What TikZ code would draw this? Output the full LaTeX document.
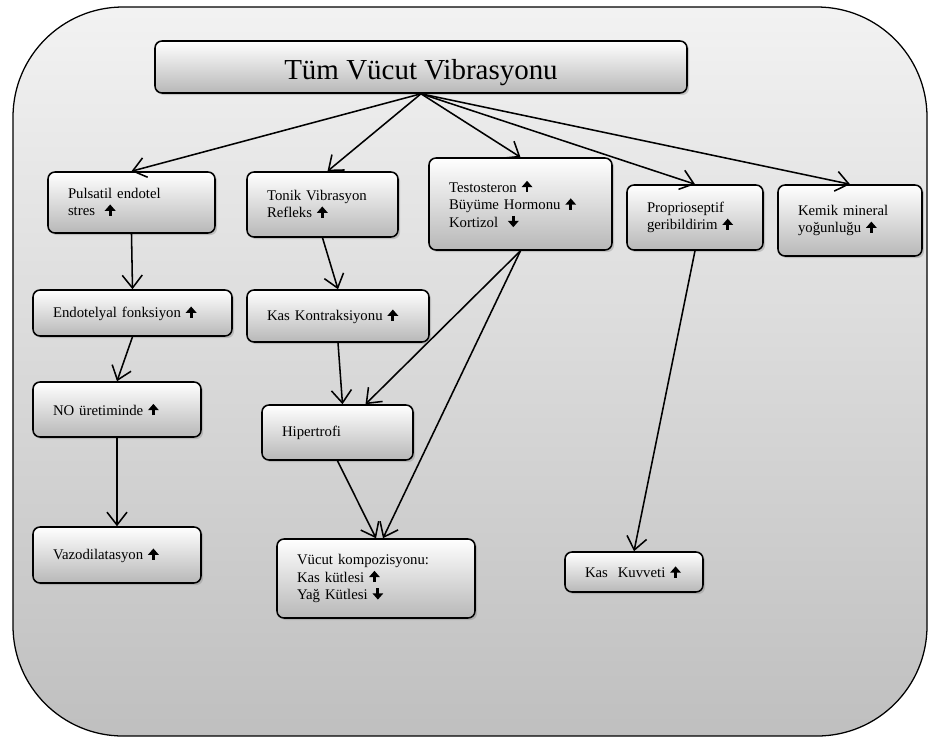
\documentclass[tikz,border=0pt]{standalone}
\usepackage{fontspec}
\setmainfont{Liberation Serif}
\usetikzlibrary{arrows.meta,shadows}

\newdimen\px
\px=0.025cm
% small up / down arrows used in the texts
\newcommand{\up}{\tikz[baseline=0pt]\draw[sharp corners,line width=2pt,-{Triangle[length=4.5pt,width=7.5pt]}] (0pt,0pt) -- (0pt,8pt);}
\newcommand{\down}{\tikz[baseline=0pt]\draw[sharp corners,line width=2pt,-{Triangle[length=4.5pt,width=7.5pt]}] (0pt,8pt) -- (0pt,0pt);}

\begin{document}
\begin{tikzpicture}[x=0.025cm,
					y=-0.025cm,
					>={Straight Barb[length=3.2mm,width=5mm]},
					panel/.style={draw,line width=0.9pt,rounded corners=2.75cm,
						top color=black!5,bottom color=black!25},
					shade box/.style={draw,line width=1.1pt,rounded corners=7*\px,
						top color=white,bottom color=black!28,
						drop shadow={shadow xshift=1.5pt,shadow yshift=-1.5pt,opacity=0.35}},
					main box/.style 2 args={shade box,align=left,inner xsep=20*\px,
						minimum width=#1*\px,text width=(#1-40)*\px,minimum height=#2*\px,
						font=\fontsize{10.5}{12.5}\selectfont},
					title box/.style={shade box,minimum width=532*\px,minimum height=52*\px,
						text height=18pt,text depth=0pt,
						font=\fontsize{20.6}{24}\selectfont}]

  \useasboundingbox (0,0) rectangle (928,738);
  \path[panel] (13,7) rectangle (927,736);

  \node[title box] (title) at (421,67) {Tüm Vücut Vibrasyonu};

  \node[main box={167}{61}] (pulsatil) at (131.5,202.5) {Pulsatil endotel\\stres~~\up};
  \node[main box={151}{65}] (tonik) at (322.5,204.5) {Tonik Vibrasyon\\Refleks \up};
  \node[main box={183}{92}] (hormon) at (520.5,204) {Testosteron \up\\Büyüme Hormonu \up\\Kortizol~~\down};
  \node[main box={136}{65}] (proprio) at (695,217.5) {Proprioseptif\\geribildirim \up};
  \node[main box={144}{71}] (kemik) at (850,220.5) {Kemik mineral\\yoğunluğu \up};

  \node[main box={199}{46}] (endotel) at (132.5,313) {Endotelyal fonksiyon \up};
  \node[main box={182}{52}] (kontraksiyon) at (338,316) {Kas Kontraksiyonu \up};
  \node[main box={168}{55}] (no) at (117,409.5) {NO üretiminde \up};
  \node[main box={151}{55}] (hipertrofi) at (337.5,432.5) {Hipertrofi};

  \node[main box={168}{56}] (vazo) at (117,555) {Vazodilatasyon \up};
  \node[main box={198}{79}] (vucut) at (376,578.5) {Vücut kompozisyonu:\\Kas kütlesi \up\\Yağ Kütlesi \down};
  \node[main box={138}{40}] (kuvvet) at (634,572) {Kas~~Kuvveti \up};

  \path[->,line width=1.1pt]
    (title.south) edge (pulsatil.north)
                  edge ([xshift=5\px]tonik.north)
                  edge (hormon.north)
                  edge (proprio.north)
                  edge (kemik.north)
    (pulsatil.south) edge (endotel.north)
    (endotel.south) edge (no.north)
    (no.south) edge (vazo.north)
    (tonik.south) edge (kontraksiyon.north)
    (kontraksiyon.south) edge ([xshift=5\px]hipertrofi.north)
    (hormon.south) edge ([xshift=28\px]hipertrofi.north)
                   edge ([xshift=7\px]vucut.north)
    (hipertrofi.south) edge (vucut.north)
    (proprio.south) edge (kuvvet.north);
\end{tikzpicture}
\end{document}
